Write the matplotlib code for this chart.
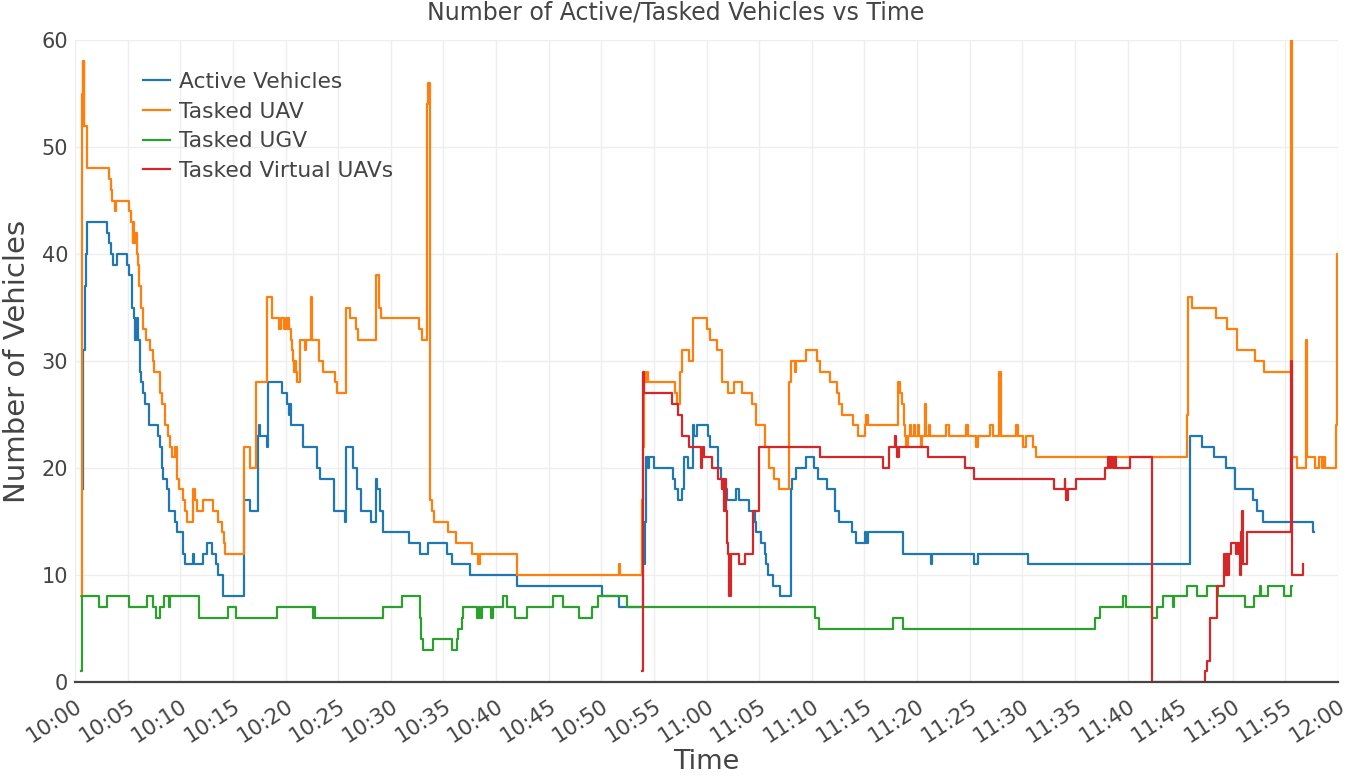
import matplotlib
matplotlib.use("Agg")
import matplotlib.pyplot as plt

plt.rcParams['font.family'] = ['DejaVu Sans']

# time = minutes after 10:00, values held until the next time (step plot)
active_t = [0.75, 0.8, 0.95, 1.05, 1.17, 3.0, 3.26, 3.38, 3.64, 3.95, 4.97, 5.16, 5.38, 5.6, 5.73,
            5.86, 6.01, 6.17, 6.22, 6.27, 6.43, 6.65, 7.07, 7.86, 8.08, 8.24, 8.4, 8.71, 8.97, 9.51,
            9.73, 10.23, 10.46, 11.25, 11.35, 12.2, 12.52, 12.99, 13.37, 13.63, 14.04, 16.1, 16.63,
            17.36, 17.49, 17.59, 18.22, 18.38, 19.65, 20.12, 20.3, 20.4, 20.53, 21.7, 22.97, 23.29,
            24.65, 25.67, 25.77, 26.46, 26.84, 27.19, 28.14, 28.58, 28.71, 29.0, 29.3, 31.7, 32.8,
            33.5, 35.3, 35.8, 37.5, 42.0, 50.05, 51.67, 54.0, 54.14, 54.26, 54.4, 54.5, 55.0, 56.8,
            57.0, 57.31, 57.69, 57.85, 58.26, 58.68, 58.83, 59.06, 60.1, 60.32, 61.12, 61.34, 61.43,
            61.97, 62.79, 63.08, 64.06, 64.6, 64.7, 65.14, 65.55, 65.7, 65.87, 66.34, 66.98, 68.02,
            68.09, 68.5, 69.45, 70.24, 70.62, 71.41, 72.2, 72.62, 73.79, 74.2, 75.06, 75.2, 75.35,
            78.7, 81.36, 81.42, 85.39, 85.8, 90.55, 105.92, 107.06, 108.23, 109.37, 110.23, 111.91,
            112.29, 112.86, 117.67, 117.72]
active_v = [18, 31, 37, 40, 43, 42, 41, 40, 39, 40, 39, 38, 35, 34, 32,
            34, 32, 31, 29, 28, 27, 26, 24, 23, 22, 20, 19, 18, 16, 15,
            14, 12, 11, 12, 11, 12, 13, 12, 11, 10, 8, 17, 16,
            23, 24, 23, 22, 28, 27, 26, 25, 26, 24, 22, 20, 19,
            16, 15, 22, 20, 18, 16, 15, 19, 18, 16, 14, 13, 12,
            13, 12, 11, 10, 9, 8, 7, 11, 15, 21, 20, 21, 20, 19,
            18, 17, 18, 21, 20, 24, 23, 24, 23, 22, 20, 19, 18,
            17, 18, 17, 16, 15, 14, 13, 12, 11, 10, 9, 8, 18,
            19, 20, 21, 20, 19, 18, 16, 15, 14, 13, 14, 13, 14,
            12, 11, 12, 11, 12, 11, 23, 22, 21, 20, 18, 17,
            16, 15, 14, 14]

uav_t = [0.6, 0.65, 0.72, 0.78, 0.82, 0.86, 1.17, 3.23, 3.38, 3.54, 3.8, 3.86, 5.16, 5.32, 5.48,
         5.54, 5.6, 5.73, 5.86, 5.95, 6.11, 6.27, 6.49, 6.74, 7.12, 7.44, 7.5, 8.07, 8.23, 8.55,
         8.8, 9.02, 9.18, 9.5, 9.66, 9.91, 10.29, 10.45, 10.67, 11.18, 11.4, 11.62, 12.19, 13.14,
         13.62, 13.94, 14.16, 14.25, 16.09, 16.63, 17.2, 18.28, 18.76, 19.42, 19.55, 19.9, 20.0,
         20.12, 20.28, 20.34, 20.5, 20.66, 20.75, 20.82, 20.91, 20.96, 21.07, 21.39, 21.86, 21.96,
         22.4, 22.5, 23.19, 23.61, 24.71, 24.87, 25.73, 26.14, 26.71, 26.87, 28.58, 28.9, 29.05,
         32.73, 32.95, 33.42, 33.55, 33.72, 33.89, 34.11, 35.48, 36.17, 37.76, 38.33, 38.49, 42.03,
         51.7, 51.79, 53.85, 54.0, 54.07, 54.2, 54.3, 54.4, 57.0, 57.22, 57.47, 57.63, 58.36,
         58.68, 60.07, 60.32, 61.02, 61.43, 62.0, 62.6, 63.33, 64.28, 64.7, 65.55, 65.96, 66.41,
         66.91, 67.86, 67.99, 68.4, 68.47, 69.45, 70.46, 70.78, 71.73, 72.36, 72.62, 72.84, 73.88,
         74.42, 75.06, 75.2, 75.35, 78.23, 78.38, 78.6, 78.73, 78.83, 79.0, 79.15, 79.3, 79.4,
         79.7, 79.85, 80.1, 80.2, 80.35, 80.5, 80.73, 80.82, 81.1, 81.2, 82.79, 83.04, 84.63,
         84.85, 85.58, 85.8, 86.97, 87.22, 87.79, 88.02, 89.38, 89.6, 90.08, 90.39, 91.03, 91.34,
         105.67, 105.79, 106.17, 108.42, 109.5, 110.45, 112.13, 112.98, 115.52, 115.65, 116.09,
         116.98, 117.1, 117.83, 118.24, 118.47, 118.62, 118.78, 119.83, 119.89, 119.98]
uav_v = [8, 55, 58, 52, 58, 52, 48, 47, 46, 45, 44, 45, 44, 43, 41,
         43, 41, 42, 40, 39, 37, 35, 33, 32, 31, 30, 29, 27, 26, 24,
         23, 22, 21, 22, 19, 18, 17, 16, 15, 18, 17, 16, 17, 16,
         15, 14, 13, 12, 22, 20, 28, 36, 34, 33, 34, 33, 34,
         33, 34, 33, 32, 31, 30, 29, 30, 29, 28, 32, 31, 32,
         36, 32, 30, 29, 28, 27, 35, 34, 33, 32, 38, 35, 34,
         33, 32, 54, 56, 17, 16, 15, 14, 13, 12, 11, 12, 10,
         11, 10, 17, 22, 29, 28, 29, 28, 27, 26, 29, 31, 30,
         34, 33, 32, 31, 28, 27, 28, 27, 26, 24, 22, 20, 19,
         18, 28, 30, 29, 30, 31, 30, 29, 28, 27, 26, 25, 24,
         23, 24, 25, 24, 28, 27, 26, 24, 23, 22, 23, 24, 23,
         24, 23, 24, 23, 22, 23, 26, 23, 24, 23, 24, 23, 24,
         23, 22, 23, 24, 23, 29, 23, 24, 23, 22, 23, 22, 21,
         25, 36, 35, 34, 33, 31, 30, 29, 62, 21, 20,
         32, 21, 20, 21, 20, 21, 20, 24, 40, 40]

ugv_t = [0.6, 0.65, 2.31, 3.0, 5.16, 6.81, 7.44, 7.69, 8.07, 8.45, 8.96, 9.02, 11.81, 14.51, 15.3,
         19.16, 22.65, 22.72, 22.8, 29.24, 31.05, 32.8, 32.9, 33.03, 33.99, 35.79, 36.27, 36.43,
         36.74, 36.84, 38.23, 38.4, 38.5, 38.64, 39.53, 39.75, 40.64, 41.08, 41.81, 42.92, 45.46,
         46.41, 47.93, 49.1, 49.73, 52.43, 70.3, 70.72, 77.75, 78.7, 96.89, 97.36, 99.58, 99.9,
         102.3, 102.81, 103.38, 104.3, 104.42, 105.67, 106.62, 107.6, 108.6, 111.2, 112.06,
         112.57, 112.7, 113.33, 114.85, 115.55, 115.65]
ugv_v = [1, 8, 7, 8, 7, 8, 7, 6, 7, 8, 7, 8, 6, 7, 6,
         7, 6, 7, 6, 7, 8, 6, 4, 3, 4, 3, 4, 5,
         6, 7, 6, 7, 6, 7, 6, 7, 8, 7, 6, 7, 8,
         7, 6, 7, 8, 7, 6, 5, 6, 5, 6, 7, 8, 7,
         6, 7, 8, 7, 8, 9, 8, 9, 8, 7, 8,
         9, 8, 9, 8, 9, 9]

virtual_t = [53.9, 53.93, 54.05, 56.68, 57.31, 57.63, 58.36, 59.44, 59.5, 59.6, 59.7, 59.75, 60.48,
             61.12, 61.43, 61.59, 61.7, 61.75, 61.84, 61.91, 62.07, 62.16, 62.32, 63.11, 63.65,
             64.44, 65.01, 70.78, 76.74, 77.37, 77.91, 78.0, 78.13, 78.32, 81.0, 84.53, 85.39,
             92.99, 94.04, 94.1, 94.2, 94.35, 95.08, 97.84, 98.16, 98.31, 98.47, 98.63, 98.79, 98.88,
             100.28, 102.3, 107.32, 107.51, 107.83, 108.46, 109.16, 109.2, 109.28, 109.35, 109.42,
             109.5, 109.58, 109.65, 109.86, 110.27, 110.43, 110.59, 110.68, 110.74, 110.9, 111.0,
             111.31, 115.49, 115.59, 115.65, 116.66, 116.72]
virtual_v = [1, 29, 27, 26, 25, 23, 22, 21, 20, 21, 22, 21, 20,
             19, 18, 19, 16, 19, 16, 13, 12, 8, 12, 11, 12,
             16, 22, 21, 20, 22, 23, 22, 21, 22, 21, 20, 19,
             18, 19, 18, 17, 18, 19, 20, 21, 20, 21, 20, 21, 20,
             21, 0, 1, 2, 6, 9, 10, 12, 10, 12, 10,
             12, 10, 12, 13, 12, 13, 12, 10, 14, 16, 11,
             14, 30, 13, 10, 11, 11]

series_names = ["Active Vehicles", "Tasked UAV", "Tasked UGV", "Tasked Virtual UAVs"]
series_colors = ["#1f77b4", "#ff7f0e", "#2ca02c", "#d62728"]

tick_minutes = [0, 5, 10, 15, 20, 25, 30, 35, 40, 45, 50, 55, 60,
                65, 70, 75, 80, 85, 90, 95, 100, 105, 110, 115, 120]
tick_labels = ["10:00", "10:05", "10:10", "10:15", "10:20", "10:25", "10:30", "10:35", "10:40",
               "10:45", "10:50", "10:55", "11:00", "11:05", "11:10", "11:15", "11:20", "11:25",
               "11:30", "11:35", "11:40", "11:45", "11:50", "11:55", "12:00"]

fig = plt.figure(figsize=(13.52, 7.77), dpi=100)
ax = fig.add_axes([75 / 1352, 1 - 682 / 777, 1263 / 1352, 642 / 777])

data = [(active_t, active_v), (uav_t, uav_v), (ugv_t, ugv_v), (virtual_t, virtual_v)]
for (t, v), name, col in zip(data, series_names, series_colors):
    ax.plot(t, v, drawstyle="steps-post", color=col, lw=1.6, label=name)

ax.set_xlim(0, 120)
ax.set_ylim(0, 60)
ax.set_xticks(tick_minutes)
ax.set_xticklabels(tick_labels, rotation=33, ha="right", rotation_mode="anchor")
ax.set_yticks([0, 10, 20, 30, 40, 50, 60])
ax.tick_params(length=0, labelsize=15, labelcolor="#444444")
ax.tick_params(axis="x", pad=10, labelsize=15.5)
ax.tick_params(axis="y", pad=5)
ax.grid(True, color="#eeeeee", lw=1)
ax.set_axisbelow(True)
for s in ["top", "right", "left"]:
    ax.spines[s].set_visible(False)
ax.spines["bottom"].set_color("#444444")
ax.spines["bottom"].set_linewidth(1.6)

ax.set_xlabel("Time", fontsize=19.5, color="#444444")
ax.xaxis.set_label_coords(0.5, -(749 - 682) / 642)
ax.set_ylabel("Number of Vehicles", fontsize=21, color="#444444")
ax.yaxis.set_label_coords(-(75 - 31) / 1263, 0.5)
fig.text(0.5, 1 - 12 / 777, "Number of Active/Tasked Vehicles vs Time", ha="center", va="center",
         fontsize=17, color="#444444")

ax.legend(loc="upper left", bbox_to_anchor=(0.054, 0.95), frameon=False, fontsize=15.7,
          handlelength=1.25, handletextpad=0.4, labelspacing=0.44, borderpad=0, borderaxespad=0,
          labelcolor="#444444")

fig.savefig("out.png", dpi=100)
